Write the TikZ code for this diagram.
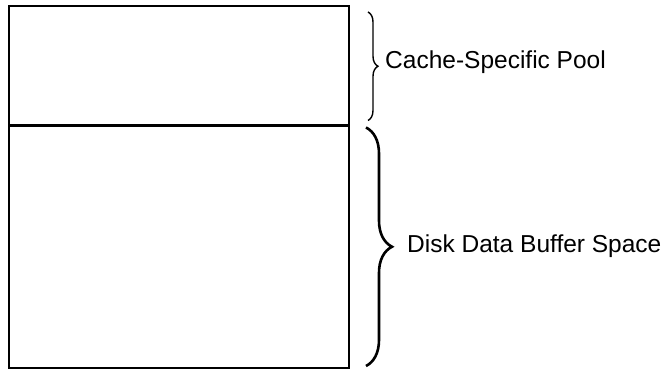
\documentclass[tikz,border=0pt]{standalone}
\usepackage{fontspec}
\setmainfont{Liberation Sans}
\usetikzlibrary{positioning,decorations.pathreplacing}

\begin{document}
\begin{tikzpicture}[
    x=1pt,y=1pt,
    pool/.style={draw,line width=2.2pt,inner sep=0pt,outer sep=0pt,minimum width=340pt},
    brace/.style={decorate,decoration={brace,amplitude=#1},line width=1.4pt},
    lbl/.style={anchor=west,inner sep=0pt,font=\fontsize{24.5}{29}\selectfont}
  ]
  \useasboundingbox (0,0) rectangle (670,371);

  % Memory areas
  \node[pool,minimum height=119.5pt] (cache) at (179,305.25) {};
  \node[pool,minimum height=242.5pt] (disk) at (179,124.25) {};

  % Braces
  \draw[brace=10pt] ([xshift=19pt,yshift=-6pt]cache.north east) -- ([xshift=19pt,yshift=5pt]cache.south east);
  \draw[brace=26pt,line width=2.6pt] ([xshift=17pt,yshift=-2pt]disk.north east) -- ([xshift=17pt,yshift=2pt]disk.south east);

  % Labels
  \node[lbl] (cachelbl) at (385,309) {Cache-Specific Pool};
  \node[lbl] (disklbl) at (407,125) {Disk Data Buffer Space};
\end{tikzpicture}
\end{document}
